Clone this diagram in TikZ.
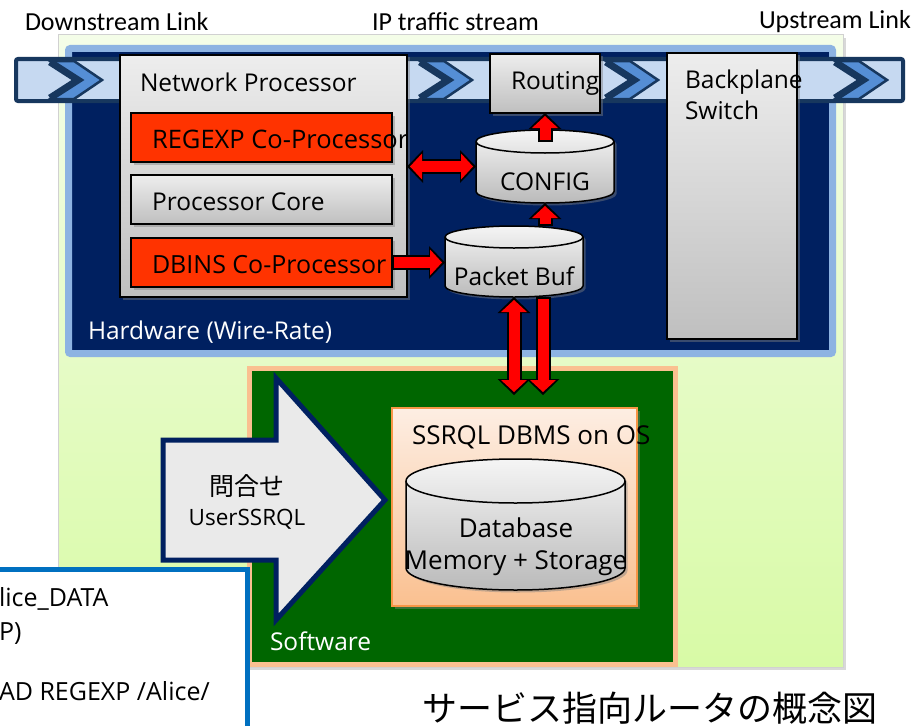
\documentclass[tikz,border=0pt]{standalone}
\usepackage{fontspec}
\setmainfont{Open Sans}
\newfontfamily\labelfont{Carlito}
\newfontfamily\jpfont{Noto Sans CJK JP}
\usetikzlibrary{positioning,arrows.meta,shadows}

\definecolor{hwnavy}{HTML}{002060}
\definecolor{hwedge}{HTML}{8DB3E2}
\definecolor{bandfill}{HTML}{C6D9F1}
\definecolor{banddark}{HTML}{17375E}
\definecolor{chevblue}{HTML}{558ED5}
\definecolor{swgreen}{HTML}{006600}
\definecolor{swedge}{HTML}{FAC090}
\definecolor{coproc}{HTML}{FF3300}
\definecolor{paleleaf}{HTML}{F4FDE8}
\definecolor{leaf}{HTML}{D8FAA6}
\definecolor{dbmsedge}{HTML}{F79646}
\definecolor{dbmstop}{HTML}{FDEEE3}
\definecolor{dbmsbot}{HTML}{FAC090}
\definecolor{noteedge}{HTML}{0070C0}
\definecolor{queryfill}{HTML}{EAEAEA}

\newcommand{\boxfont}{\fontsize{24.5}{31}\selectfont}
\newcommand{\widefont}{\fontsize{26}{32}\selectfont}

% drum around a named node: #1 node, #2 x radius, #3 y radius of the ends
\newcommand{\drum}[3]{%
    \draw[drumbody] ([yshift=-#3pt]#1.north west) -- ([yshift=#3pt]#1.south west)
        arc[start angle=180, end angle=360, x radius=#2pt, y radius=#3pt]
        -- ([yshift=-#3pt]#1.north east)
        arc[start angle=0, end angle=180, x radius=#2pt, y radius=#3pt] -- cycle;
    \draw[drumedge] ([yshift=-#3pt]#1.north west)
        arc[start angle=180, end angle=360, x radius=#2pt, y radius=#3pt];
}

\tikzset{
  every node/.append style={inner sep=0pt, outer sep=0pt},
  softshadow/.style={drop shadow={shadow xshift=2.5pt, shadow yshift=-2.5pt, opacity=.45}},
  leafbox/.style={draw=black!18, line width=1pt, top color=paleleaf, bottom color=leaf,
    drop shadow={shadow xshift=3pt, shadow yshift=-3pt, opacity=.3}},
  hwbox/.style={draw=hwedge, line width=7pt, fill=hwnavy, rounded corners=2pt},
  swbox/.style={draw=swedge, line width=5pt, fill=swgreen, softshadow},
  graybox/.style={draw=black, line width=1.5pt, top color=black!7, bottom color=black!25, softshadow},
  redbox/.style={draw=black, line width=1.5pt, fill=coproc, softshadow},
  dbmsbox/.style={draw=dbmsedge, line width=2pt, top color=dbmstop, bottom color=dbmsbot, softshadow},
  drumbody/.style={draw=black, line width=1.5pt, top color=black!4, bottom color=black!27, softshadow},
  drumedge/.style={draw=black, line width=1.5pt},
  bandline/.style={fill=bandfill, draw=banddark, line width=4pt, rounded corners=2pt},
  chevron/.style={fill=chevblue, draw=banddark, line width=2.5pt, line join=miter},
  chevronback/.style={draw=banddark, line width=7pt, line join=miter},
  queryarrow/.style={fill=queryfill, draw=hwnavy, line width=5pt, line join=miter},
  notebox/.style={draw=noteedge, line width=5pt, fill=white},
  whitetext/.style={text=white, font=\boxfont},
  toplabel/.style={font=\labelfont\fontsize{26}{30}\selectfont},
  fatone/.style={red, line width=11pt, shorten >=3pt, shorten <=2pt,
    -{Triangle[length=12pt, width=26pt, line width=0pt]},
    preaction={draw=black, line width=15pt, shorten >=0pt, shorten <=0pt,
      -{Triangle[length=16pt, width=33pt, line width=0pt]}}},
  fatboth/.style={red, line width=11pt, shorten >=3pt, shorten <=3pt,
    {Triangle[length=12pt, width=26pt, line width=0pt]}-{Triangle[length=12pt, width=26pt, line width=0pt]},
    preaction={draw=black, line width=15pt, shorten >=0pt, shorten <=0pt,
      {Triangle[length=16pt, width=33pt, line width=0pt]}-{Triangle[length=16pt, width=33pt, line width=0pt]}}},
}

\begin{document}
\begin{tikzpicture}[x=1pt, y=-1pt, font=\boxfont]
    \useasboundingbox (0,0) rectangle (917,725);
    \fill[white] (0,0) rectangle (917,725);

    % labels over the stream
    \node[toplabel, anchor=west] (down label) at (25,22) {Downstream Link};
    \node[toplabel, anchor=west] (stream label) at (372,22) {IP traffic stream};
    \node[toplabel, anchor=west] (up label) at (759,22) {Upstream Link};

    % router frame
    \node[leafbox, anchor=north west, minimum width=785, minimum height=632] (frame) at (58,35) {};

    % hardware part
    \node[hwbox, anchor=north west, minimum width=764, minimum height=305] (hw) at (68.5,48.5) {};
    \node[whitetext, anchor=west] (hw label) at (88,332) {Hardware (Wire-Rate)};

    \draw[bandline] (16,59) rectangle (903,101);
    \foreach \tip in {102,472,658,887} {
        \draw[chevron] (\tip-28,61) -- (\tip,80) -- (\tip-28,99) -- (\tip-52,99) -- (\tip-24,80) -- (\tip-52,61) -- cycle;
        \draw[chevronback] (\tip-52,62) -- (\tip-24,80) -- (\tip-52,98);
    }

    \node[graybox, anchor=north west, minimum width=287, minimum height=242] (np) at (120,55) {};
    \node[anchor=west] (np text) at (140,82) {Network Processor};
    \node[redbox, anchor=north west, minimum width=261, minimum height=49] (regexp) at (131,113) {};
    \node[anchor=west, font=\fontsize{25.5}{31}\selectfont] (regexp text) at ([xshift=21pt,yshift=-2pt]regexp.west) {REGEXP Co-Processor};
    \node[graybox, below=13pt of regexp, minimum width=261, minimum height=49] (core) {};
    \node[anchor=west] (core text) at ([xshift=21pt,yshift=-2pt]core.west) {Processor Core};
    \node[redbox, below=14pt of core, minimum width=261, minimum height=49] (dbins) {};
    \node[anchor=west, font=\fontsize{25}{31}\selectfont] (dbins text) at ([xshift=21pt,yshift=-2pt]dbins.west) {DBINS Co-Processor};

    \node[graybox, anchor=north west, minimum width=110, minimum height=59] (routing) at (490,54) {};
    \node[anchor=west] (routing text) at (511,83) {Routing};
    \node[graybox, anchor=north west, minimum width=130, minimum height=286] (backplane) at (667,53) {};
    \node[anchor=north west, align=left] (backplane text) at (685,70) {Backplane\\Switch};

    \node[minimum width=138, minimum height=73] (config) at (545,166.5) {};
    \drum{config}{69}{11.5}
    \node (config text) at (545,182) {CONFIG};
    \node[minimum width=138, minimum height=71] (pbuf) at (514,261.5) {};
    \drum{pbuf}{69}{11}
    \node (pbuf text) at (514,276) {Packet Buf};

    % software part
    \node[swbox, anchor=north west, minimum width=426, minimum height=296] (sw) at (249.5,368.5) {};
    \node[whitetext, anchor=west] (sw label) at (270,641) {Software};

    \draw[queryarrow] (163,440) -- (276,440) -- (276,378) -- (385,500) -- (276,620) -- (276,560) -- (163,560) -- cycle;
    \node[font=\jpfont\fontsize{25}{30}\selectfont] (query jp) at (247,486) {問合せ};
    \node[font=\fontsize{22.5}{27}\selectfont] (query en) at (247,519) {UserSSRQL};

    \node[dbmsbox, anchor=north west, minimum width=245, minimum height=198] (dbms) at (392,408) {};
    \node[anchor=west, font=\widefont] (dbms text) at (412,437) {SSRQL DBMS on OS};
    \node[minimum width=219, minimum height=131] (db) at (515.5,524.5) {};
    \drum{db}{109.5}{22}
    \node[align=center, font=\widefont] (db text) at (516,547) {Database\\Memory + Storage};

    % data paths
    \coordinate (sw in) at ([yshift=13pt]dbms.north);
    \coordinate (pbuf out) at ([xshift=29pt]pbuf.south);
    \draw[fatboth] (np.east |- config.west) -- (config.west);
    \draw[fatone] (dbins.east) -- (dbins.east -| pbuf.west);
    \draw[fatone] (pbuf.north -| config.south) -- (config.south);
    \draw[fatone] ([yshift=-12pt]config.north) -- (routing.south -| config.north);
    \draw[fatboth] (pbuf.south) -- (pbuf.south |- sw in);
    \draw[fatone] (pbuf out) -- (pbuf out |- sw in);

    % query note
    \node[notebox, anchor=north east, minimum width=270, minimum height=180] (note) at (247.5,569.5) {};
    \node[anchor=north west, align=left, font=\fontsize{25}{34}\selectfont] (note text) at (-1,587)
        {lice\_DATA\\P)\\[26pt]AD REGEXP /Alice/};

    \node[font=\jpfont\fontsize{35}{40}\selectfont] (title) at (650,708) {サービス指向ルータの概念図};
\end{tikzpicture}
\end{document}
